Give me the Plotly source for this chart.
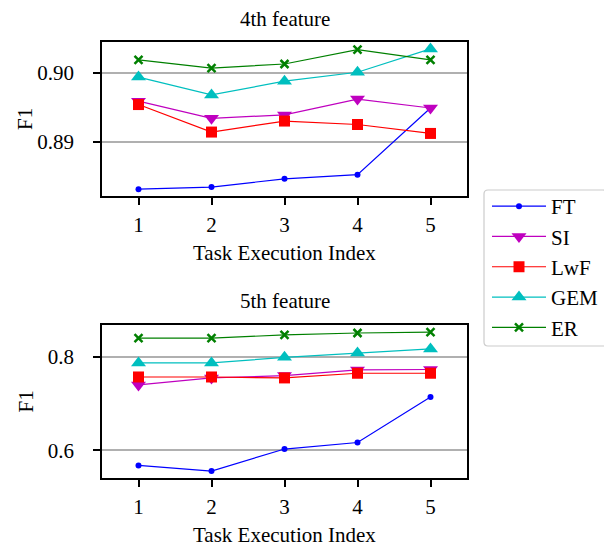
import plotly.graph_objects as go

W, H = 612, 547
OFF = 8  # page body margin in the browser

tasks = [1, 2, 3, 4, 5]
methods = ["FT", "SI", "LwF", "GEM", "ER"]

# 4th feature F1 scores
f4_FT = [0.8831, 0.8834, 0.8846, 0.8852, 0.8949]
f4_SI = [0.8959, 0.8934, 0.8939, 0.8962, 0.8949]
f4_LwF = [0.8954, 0.8914, 0.8930, 0.8925, 0.8912]
f4_GEM = [0.8994, 0.8968, 0.8988, 0.9001, 0.9035]
f4_ER = [0.9019, 0.9007, 0.9013, 0.9034, 0.9019]

# 5th feature F1 scores
f5_FT = [0.568, 0.556, 0.603, 0.617, 0.714]
f5_SI = [0.740, 0.755, 0.760, 0.772, 0.773]
f5_LwF = [0.757, 0.757, 0.755, 0.765, 0.765]
f5_GEM = [0.787, 0.787, 0.799, 0.808, 0.817]
f5_ER = [0.840, 0.840, 0.847, 0.851, 0.853]

top_ticks = [0.89, 0.90]
top_ticklabels = ["0.89", "0.90"]
bot_ticks = [0.6, 0.8]
bot_ticklabels = ["0.6", "0.8"]

titles = ["4th feature", "5th feature"]
xlabel = "Task Execution Index"
ylabel = "F1"

styles = {
    "FT": dict(color="#0000ff", symbol="circle", size=6, lw=0),
    "SI": dict(color="#bf00bf", symbol="triangle-down", size=13, lw=0),
    "LwF": dict(color="#ff0000", symbol="square", size=11, lw=0),
    "GEM": dict(color="#00bfbf", symbol="triangle-up", size=13, lw=0),
    "ER": dict(color="#008000", symbol="x-thin", size=8, lw=2.5),
}

top_data = [f4_FT, f4_SI, f4_LwF, f4_GEM, f4_ER]
bot_data = [f5_FT, f5_SI, f5_LwF, f5_GEM, f5_ER]

fig = go.Figure()
for name, ys in zip(methods, top_data):
    s = styles[name]
    fig.add_trace(go.Scatter(
        x=tasks, y=ys, name=name, mode="lines+markers", xaxis="x", yaxis="y",
        legendgroup=name, showlegend=True,
        line=dict(color=s["color"], width=1.2),
        marker=dict(symbol=s["symbol"], size=s["size"], color=s["color"],
                    line=dict(color=s["color"], width=s["lw"])),
    ))
for name, ys in zip(methods, bot_data):
    s = styles[name]
    fig.add_trace(go.Scatter(
        x=tasks, y=ys, name=name, mode="lines+markers", xaxis="x2", yaxis="y2",
        legendgroup=name, showlegend=False,
        line=dict(color=s["color"], width=1.2),
        marker=dict(symbol=s["symbol"], size=s["size"], color=s["color"],
                    line=dict(color=s["color"], width=s["lw"])),
    ))

FONT = "Liberation Serif"
FS = 21
FW, FH = W - OFF, H - OFF

# axes box in (reference) pixels
L, R = 102, 467
T1, B1 = 42, 196
T2, B2 = 325, 478

def px_x(p):
    return (p - OFF) / FW

def px_y(p):
    return 1 - (p - OFF) / FH

common_x = dict(
    range=[0.5, 5.5], tickvals=tasks, ticktext=[str(t) for t in tasks],
    ticks="outside", ticklen=7, tickwidth=1.5, tickcolor="black",
    showline=True, linecolor="black", linewidth=1.5, mirror=True,
    showgrid=False, zeroline=False, ticklabelstandoff=2,
    tickfont=dict(family=FONT, size=FS, color="black"),
)
common_y = dict(
    ticks="outside", ticklen=7, tickwidth=1.5, tickcolor="black",
    showline=True, linecolor="black", linewidth=1.5, mirror=True,
    showgrid=True, gridcolor="#b0b0b0", gridwidth=2, zeroline=False,
    ticklabelstandoff=15,
    tickfont=dict(family=FONT, size=FS, color="black"),
)

fig.update_layout(
    width=FW, height=FH,
    margin=dict(l=0, r=0, t=0, b=0),
    paper_bgcolor="white", plot_bgcolor="white",
    font=dict(family=FONT, size=FS, color="black"),
    xaxis=dict(domain=[px_x(L), px_x(R)], anchor="y", **common_x),
    yaxis=dict(domain=[px_y(B1), px_y(T1)], anchor="x", range=[0.8821, 0.9045],
               tickvals=top_ticks, ticktext=top_ticklabels, **common_y),
    xaxis2=dict(domain=[px_x(L), px_x(R)], anchor="y2", **common_x),
    yaxis2=dict(domain=[px_y(B2), px_y(T2)], anchor="x2", range=[0.5411, 0.8681],
                tickvals=bot_ticks, ticktext=bot_ticklabels, **common_y),
    legend=dict(
        x=px_x(487), y=px_y(186), xanchor="left", yanchor="top",
        bgcolor="rgba(0,0,0,0)", borderwidth=0,
        font=dict(family=FONT, size=FS, color="black"),
        tracegroupgap=0, itemwidth=54,
    ),
    showlegend=True,
)

cx = (L + R) / 2
annos = [
    dict(text=titles[0], x=px_x(cx), y=px_y(19.5)),
    dict(text=titles[1], x=px_x(cx), y=px_y(301)),
    dict(text=xlabel, x=px_x(cx), y=px_y(253)),
    dict(text=xlabel, x=px_x(cx), y=px_y(535)),
    dict(text=ylabel, x=px_x(25), y=px_y((T1 + B1) / 2), textangle=-90),
    dict(text=ylabel, x=px_x(25), y=px_y((T2 + B2) / 2), textangle=-90),
]
for a in annos:
    fig.add_annotation(xref="paper", yref="paper", showarrow=False,
                       xanchor="center", yanchor="middle", borderpad=0,
                       font=dict(family=FONT, size=FS, color="black"), **a)

# rounded legend frame
lx0, lx1, ly0, ly1, r = 484, 607, 190, 346, 4
path = (f"M {px_x(lx0 + r)},{px_y(ly0)} L {px_x(lx1 - r)},{px_y(ly0)} "
        f"Q {px_x(lx1)},{px_y(ly0)} {px_x(lx1)},{px_y(ly0 + r)} "
        f"L {px_x(lx1)},{px_y(ly1 - r)} Q {px_x(lx1)},{px_y(ly1)} {px_x(lx1 - r)},{px_y(ly1)} "
        f"L {px_x(lx0 + r)},{px_y(ly1)} Q {px_x(lx0)},{px_y(ly1)} {px_x(lx0)},{px_y(ly1 - r)} "
        f"L {px_x(lx0)},{px_y(ly0 + r)} Q {px_x(lx0)},{px_y(ly0)} {px_x(lx0 + r)},{px_y(ly0)} Z")
fig.add_shape(type="path", path=path, xref="paper", yref="paper",
              line=dict(color="#cccccc", width=1.2), fillcolor="rgba(255,255,255,0.8)",
              layer="below")

fig.write_html("out.html")
